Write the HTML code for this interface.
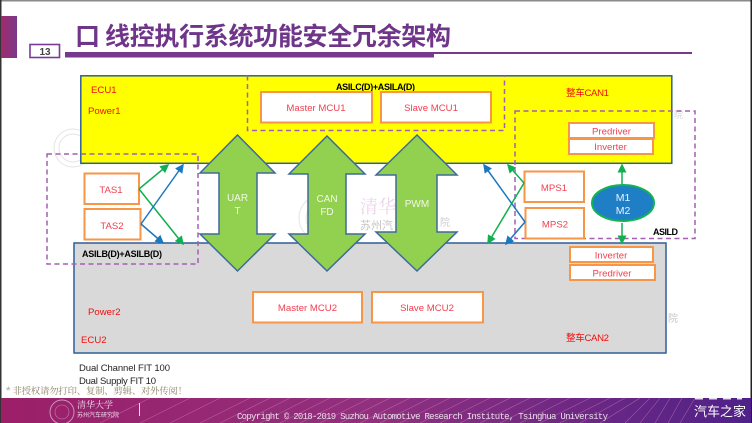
<!DOCTYPE html>
<html lang="zh"><head><meta charset="utf-8"><style>
html,body{margin:0;padding:0;background:#fff}
svg{display:block}
text{font-family:"Liberation Sans","Noto Sans CJK SC",sans-serif}
.r{fill:#f04050;font-size:9.600px;text-anchor:middle}
.b{fill:#fff;stroke:#f79646;stroke-width:2}
.e{fill:#f01010;font-size:9.600px}
.k{fill:#000;font-size:9px;font-weight:bold}
.d{fill:none;stroke:#a45fb0;stroke-width:1.5;stroke-dasharray:5 3.5}
.a{fill:#92d050;stroke:#3d6a9e;stroke-width:1.5}
.w{fill:#f2f8e8;font-size:10px;text-anchor:middle}
.g{stroke:#10b050;stroke-width:1.500;fill:none}
.l{stroke:#1a78c2;stroke-width:1.500;fill:none}
</style></head><body>
<svg width="752" height="423" viewBox="0 0 752 423" xmlns="http://www.w3.org/2000/svg">
<defs>
<linearGradient id="f" x1="0" x2="1" y1="0" y2="0"><stop offset="0" stop-color="#9c1f68"/><stop offset=".5" stop-color="#90307f"/><stop offset="1" stop-color="#4f2188"/></linearGradient>
<linearGradient id="t" x1="0" x2="1" y1="0" y2="0"><stop offset="0" stop-color="#a02a6e"/><stop offset="1" stop-color="#7a3a8a"/></linearGradient>
<marker id="mg" markerWidth="7" markerHeight="7" refX="5" refY="3" orient="auto"><path d="M0 0L6 3L0 6Z" fill="#10b050"/></marker>
<marker id="ml" markerWidth="7" markerHeight="7" refX="5" refY="3" orient="auto"><path d="M0 0L6 3L0 6Z" fill="#1a78c2"/></marker>
</defs>
<rect width="752" height="423" fill="#fff"/>
<rect x="0" y="0" width="752" height="1.500" fill="#8a8a8a"/>
<rect x="0" y="0" width="1.500" height="423" fill="#333"/>
<rect x="750.500" y="0" width="1.500" height="423" fill="#222"/>
<rect x="1" y="16" width="16" height="42" fill="url(#t)"/>
<rect x="30" y="44.500" width="29.500" height="13" fill="#fff" stroke="#7b3a96" stroke-width="1.600"/>
<text x="45" y="55" font-size="10" font-weight="bold" fill="#444" text-anchor="middle">13</text>
<text x="75" y="45" font-size="25" font-weight="bold" fill="#6f3589" style="font-family:'Noto Sans CJK SC',sans-serif" textLength="376">口 线控执行系统功能安全冗余架构</text>
<rect x="65" y="52" width="369" height="5.500" fill="#753a8e"/>
<rect x="434" y="52" width="258" height="2" fill="#753a8e"/>

<!-- watermarks -->
<g opacity=".3" fill="none" stroke="#a9a9a9">
<circle cx="73" cy="148" r="19"/><circle cx="73" cy="148" r="14"/>
<circle cx="322" cy="218" r="23"/><circle cx="322" cy="218" r="16"/>
<circle cx="332" cy="306" r="20"/>
</g>
<text x="360" y="213" font-size="18" fill="#ecd4ec" style="font-family:'Noto Serif CJK SC',serif">清华</text>
<text x="360" y="229" font-size="11" fill="#c4c4c4">苏州汽</text>
<text x="440" y="226" font-size="10" fill="#ccc">院</text>
<text x="674" y="118" font-size="9" fill="#d4d4d4">院</text>
<text x="668" y="322" font-size="10" fill="#c4c4c4">院</text>

<!-- ECU1 -->
<rect x="80.800" y="75.800" width="591" height="87.500" fill="#ff0" stroke="#2f5f97" stroke-width="1.500"/>
<text class="e" x="91" y="93">ECU1</text>
<text class="e" x="88" y="114">Power1</text>
<text class="e" x="566" y="96" textLength="43">整车CAN1</text>
<path class="d" d="M247.500 75.500V130.500H504.500V75.500"/>
<text class="k" x="336" y="90" textLength="79">ASILC(D)+ASILA(D)</text>
<rect class="b" x="261" y="92" width="111" height="30.500"/>
<text class="r" x="316" y="111">Master MCU1</text>
<rect class="b" x="381" y="92" width="110" height="30.500"/>
<text class="r" x="431" y="111">Slave MCU1</text>

<!-- ECU2 -->
<rect x="74" y="243" width="592" height="110" fill="#d9d9d9" stroke="#2f5f97" stroke-width="1.500"/>
<text class="e" x="88" y="315">Power2</text>
<text class="e" x="81" y="343">ECU2</text>
<text class="e" x="566" y="341" textLength="43">整车CAN2</text>
<rect class="b" x="253" y="292" width="109" height="30.500"/>
<text class="r" x="307.500" y="311">Master MCU2</text>
<rect class="b" x="372" y="292" width="111" height="30.500"/>
<text class="r" x="427" y="311">Slave MCU2</text>

<!-- dashed groups -->
<rect class="d" x="47" y="154" width="151" height="110"/>
<text class="k" x="82" y="257" textLength="80">ASILB(D)+ASILB(D)</text>
<rect class="d" x="515" y="111" width="180" height="127.500"/>
<text class="k" x="653" y="235" textLength="25">ASILD</text>

<!-- left -->
<rect class="b" x="84.500" y="173.500" width="54.500" height="30.500"/>
<text class="r" x="111" y="193">TAS1</text>
<rect class="b" x="84.500" y="209" width="56" height="30.500"/>
<text class="r" x="112" y="229">TAS2</text>
<path class="g" d="M139 189L168 165" marker-end="url(#mg)"/>
<path class="g" d="M139 189L183 244" marker-end="url(#mg)"/>
<path class="l" d="M141 224L183 165" marker-end="url(#ml)"/>
<path class="l" d="M141 224L163 243" marker-end="url(#ml)"/>

<!-- block arrows -->
<path class="a" d="M237.500 135L275 173H257V234H275L237.500 271L200 234H219V173H200Z"/>
<text class="w" x="237.500" y="201">UAR</text><text class="w" x="237.500" y="214">T</text>
<path class="a" d="M327 136L365 174H346V234H365L327 271L289 234H308V174H289Z"/>
<text class="w" x="327" y="202">CAN</text><text class="w" x="327" y="215">FD</text>
<path class="a" d="M417 135L457 175H437V232H457L417 271L376 232H396V175H376Z"/>
<text class="w" x="417" y="207">PWM</text>

<!-- right -->
<rect class="b" x="569" y="123" width="85" height="15"/>
<text class="r" x="611.500" y="134.500">Predriver</text>
<rect class="b" x="569" y="139" width="84" height="15"/>
<text class="r" x="610.500" y="150">Inverter</text>
<rect class="b" x="524.500" y="171.500" width="59.500" height="30.500"/>
<text class="r" x="554" y="191">MPS1</text>
<rect class="b" x="525.500" y="208" width="58.500" height="30.500"/>
<text class="r" x="555" y="227.500">MPS2</text>
<path class="g" d="M524 183L508 165" marker-end="url(#mg)"/>
<path class="g" d="M524 183L488 243" marker-end="url(#mg)"/>
<path class="l" d="M525 222L484 165" marker-end="url(#ml)"/>
<path class="l" d="M525 222L506 244" marker-end="url(#ml)"/>
<path class="g" d="M622 184V165" marker-end="url(#mg)"/>
<path class="g" d="M622 223V243" marker-end="url(#mg)"/>
<ellipse cx="623" cy="203" rx="31" ry="18" fill="#1f7fc6" stroke="#14b254" stroke-width="2"/>
<text x="623" y="201" font-size="10.500" fill="#eaf4fb" text-anchor="middle">M1</text>
<text x="623" y="214" font-size="10.500" fill="#eaf4fb" text-anchor="middle">M2</text>
<rect class="b" x="570" y="247" width="83" height="15"/>
<text class="r" x="611" y="258.500">Inverter</text>
<rect class="b" x="570" y="265" width="85" height="15"/>
<text class="r" x="612" y="276.500">Predriver</text>

<!-- notes -->
<text x="79" y="371" font-size="9.500" fill="#222" textLength="91">Dual Channel  FIT 100</text>
<text x="79" y="384" font-size="9.500" fill="#222" textLength="77">Dual Supply FIT 10</text>
<text x="6" y="394" font-size="9.300" fill="#8a8066" style="font-family:'Noto Serif CJK SC',serif" textLength="181">* 非授权请勿打印、复制、剪辑、对外传阅！</text>

<!-- footer -->
<rect x="1" y="398" width="750" height="25" fill="url(#f)"/>
<g stroke="#d88ab8" stroke-width=".6" opacity=".55" fill="none">
<path d="M100 423L150 398M140 423L190 398M170 423L220 398M200 423L250 398M220 423L270 398M240 423L290 398M260 423L310 398M280 423L330 398M300 423L350 398M320 423L370 398M340 423L390 398M360 423L410 398M380 423L430 398M400 423L450 398M420 423L470 398M440 423L490 398M460 423L510 398M480 423L530 398M500 423L550 398M520 423L570 398M540 423L590 398M560 423L610 398M580 423L625 398M600 423L640 398M625 423L650 398M640 423L660 398M655 423L670 398M668 423L682 398M680 423L695 398"/>
</g>
<circle cx="62" cy="412" r="12" fill="none" stroke="#e0c0d8" stroke-width="1" opacity=".7"/>
<circle cx="62" cy="412" r="7" fill="none" stroke="#e0c0d8" stroke-width=".6" opacity=".6"/>
<text x="77" y="408" font-size="9" fill="#eeddee" style="font-family:'Noto Serif CJK SC',serif">清华大学</text>
<text x="77" y="417" font-size="6" fill="#eeddee">苏州汽车研究院</text>
<rect x="139" y="403" width="1" height="13" fill="#eeddee"/>
<text x="237" y="419" font-size="9" fill="#eadfe8" style="font-family:'Liberation Mono',monospace" textLength="371">Copyright © 2018-2019 Suzhou Automotive Research Institute, Tsinghua University</text>
<text x="694" y="416" font-size="13" fill="#fff">汽车之家</text>
<path d="M695 398.500H742" stroke="#fff" stroke-width="2" stroke-dasharray="8 6" opacity=".85"/>
</svg>
</body></html>
